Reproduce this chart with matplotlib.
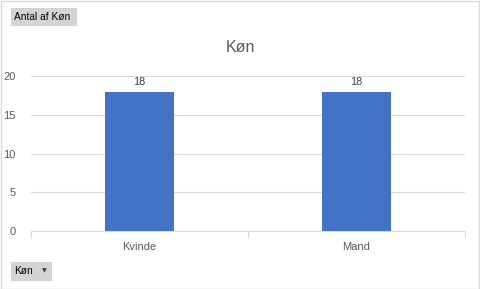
import matplotlib
matplotlib.use('Agg')
import matplotlib.pyplot as plt
from matplotlib.patches import Rectangle

plt.rcParams['font.family'] = ['Liberation Sans', 'DejaVu Sans']

kategorier = ['Kvinde', 'Mand']
antal = [18, 18]
yticks = [0, 5, 10, 15, 20]

fig = plt.figure(figsize=(4.8, 2.89), dpi=100)
ax = fig.add_axes([31/480, 1-231/289, 434/480, 155/289])

x = range(len(kategorier))
bars = ax.bar(x, antal, width=0.315, color='#4472c4', zorder=3)
for b, v in zip(bars, antal):
    ax.text(b.get_x() + b.get_width()/2, v + 0.6, str(v), ha='center', va='bottom',
            fontsize=7.8, color='#404040')

ax.set_xlim(-0.5, len(kategorier) - 0.5)
ax.set_ylim(0, 20)
ax.set_yticks(yticks)
ax.set_xticks(list(x))
ax.set_xticklabels(kategorier)
ax.set_xticks([-0.5, 0.5, 1.5], minor=True)
ax.tick_params(axis='x', which='major', length=0, pad=8, labelsize=8, labelcolor='#595959')
ax.tick_params(axis='x', which='minor', length=5, color='#d9d9d9', width=0.8)
ax.tick_params(axis='y', length=0, pad=11, labelsize=8, labelcolor='#595959')
ax.yaxis.grid(True, color='#d9d9d9', linewidth=0.8, zorder=0)
for s in ['top', 'right', 'left']:
    ax.spines[s].set_visible(False)
ax.spines['bottom'].set_color('#d9d9d9')
ax.spines['bottom'].set_linewidth(0.8)

fig.text(0.5, 1-48/289, 'Køn', ha='center', va='center', fontsize=11.5, color='#595959')

# knapper (pivot felter)
fig.patches.append(Rectangle((11/480, 1-25/289), 65/480, 17/289, transform=fig.transFigure,
                             facecolor='#d4d4d4', edgecolor='#c8c8c8', linewidth=0.5))
fig.text(14/480, 1-16.5/289, 'Antal af Køn', ha='left', va='center', fontsize=7.3, color='#000000')
fig.patches.append(Rectangle((11/480, 1-280/289), 40/480, 18/289, transform=fig.transFigure,
                             facecolor='#d4d4d4', edgecolor='#c8c8c8', linewidth=0.5))
fig.text(14/480, 1-271/289, 'Køn', ha='left', va='center', fontsize=7.3, color='#000000')
fig.text(44/480, 1-271/289, '▼', ha='center', va='center', fontsize=4.5, color='#404040',
         family='DejaVu Sans')

# ramme
fig.patches.append(Rectangle((0.5/480, 0.5/289), 478.5/480, 287.5/289, transform=fig.transFigure,
                             facecolor='none', edgecolor='#d9d9d9', linewidth=1))

fig.savefig('out.png', dpi=100)
